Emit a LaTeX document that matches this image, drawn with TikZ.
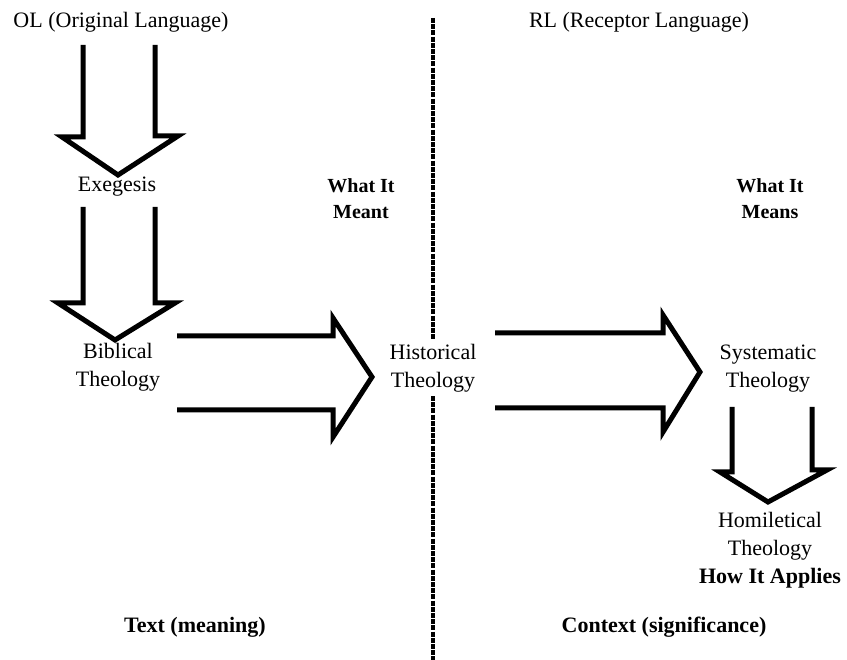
\documentclass[tikz,border=0pt]{standalone}
\usepackage{fontspec}
\setmainfont{Liberation Serif}
\begin{document}
\begin{tikzpicture}[x=1pt,y=-1pt,
  lbl/.style={font=\fontsize{22}{28}\selectfont, align=center, inner sep=0pt},
  blbl/.style={font=\fontsize{20}{26}\selectfont\bfseries, align=center, inner sep=0pt},
  foot/.style={font=\fontsize{22}{28}\selectfont\bfseries, align=center, inner sep=0pt},
  barrow/.style={line width=5pt, line join=miter, miter limit=10},
  divider/.style={line width=4.5pt, dash pattern=on 5pt off 1.2pt}]
\useasboundingbox (0,0) rectangle (847,660);

% headings
\node[lbl] (ol) at (121,22) {OL (Original Language)};
\node[lbl] (rl) at (639,22) {RL (Receptor Language)};

% stages
\node[lbl] (exeg) at (117,187) {Exegesis};
\node[lbl] (bib) at (118,367) {Biblical\\Theology};
\node[lbl, outer sep=4pt] (hist) at (433,368) {Historical\\Theology};
\node[lbl] (syst) at (768,369) {Systematic\\Theology};
\node[lbl] (homil) at (770,550) {Homiletical\\Theology\\\textbf{How It Applies}};

% side notes
\node[blbl] (meant) at (361,199) {What It\\Meant};
\node[blbl] (means) at (770,199) {What It\\Means};
\node[foot] (txt) at (195,627) {Text (meaning)};
\node[foot] (ctx) at (664,627) {Context (significance)};

% dividing line
\coordinate (dtop) at (433,18);
\coordinate (dbot) at (433,662);
\draw[divider] (dtop) -- (hist.north);
\draw[divider] (hist.south) -- (dbot);

% open block arrows
\draw[barrow] (83,45) -- (83,137) -- (62,137) -- (118,175) -- (178,136) -- (155,136) -- (155,45);
\draw[barrow] (83,207) -- (83,303) -- (58,303) -- (115,340) -- (175,303) -- (155,303) -- (155,207);
\draw[barrow] (177,336) -- (333,336) -- (333,318) -- (372,377) -- (333,437) -- (333,410) -- (177,410);
\draw[barrow] (495,333) -- (663,333) -- (663,315) -- (700,372) -- (663,432) -- (663,408) -- (495,408);
\draw[barrow] (732,407) -- (732,472) -- (720,472) -- (768,502) -- (827,470) -- (812,470) -- (812,407);
\end{tikzpicture}
\end{document}
